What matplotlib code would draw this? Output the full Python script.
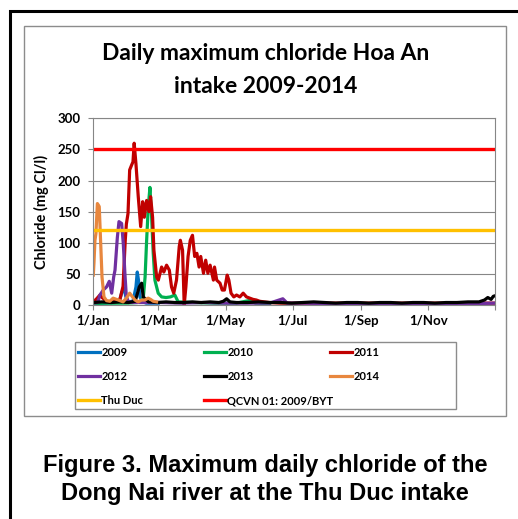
import matplotlib
matplotlib.use("Agg")
import matplotlib.pyplot as plt
from matplotlib.patches import Rectangle

plt.rcParams['font.family'] = ['Lato', 'DejaVu Sans']

# ---------------- data (day of year, mg Cl/l) ----------------
days_2009 = [0, 10, 20, 24, 26, 27.8, 29.6, 31.7, 36, 38.7, 39.9, 41, 42.3, 45, 48, 55, 59]
vals_2009 = [3, 3, 4, 8, 21, 27, 13, 5, 6, 29, 53, 40, 13, 5, 3, 3, 3]

days_2010 = [0, 10, 20, 30, 40, 44, 45.5, 47, 48.4, 49.9, 51.4, 52.9, 54.4, 55.9, 58.9,
             62, 66, 70, 74, 77, 90, 110, 130, 143.5, 147, 160]
vals_2010 = [2, 3, 3, 3, 4, 6, 14, 45, 104, 158, 189, 142, 83, 40, 19,
             13, 12, 13, 16, 5, 4, 3, 3, 8, 3, 2]

days_2011 = [0, 3, 6, 8, 12, 18, 24, 27, 29, 30,
             31.5, 33, 34.8, 36, 37.1, 38.7, 40.8, 43, 44.8, 46.3,
             48.4, 50.5, 52, 53.8, 55, 57.5, 59, 62, 64, 66.5,
             69, 71, 73, 75.5, 78, 79, 81, 82.5, 84, 86,
             88, 90, 92, 94, 96, 97.5, 100, 102, 104, 106,
             109, 110, 112, 115, 117, 119, 121.5, 123, 125, 127.5,
             130, 133, 136, 139, 142, 145, 148, 151, 155, 160,
             170, 200, 250, 300, 365]
vals_2011 = [5, 10, 16, 12, 6, 5, 8, 30, 104, 130,
             147, 217, 225, 230, 260, 227, 174, 126, 166, 141,
             168, 150, 174, 141, 88, 45, 40, 61, 53, 64,
             56, 29, 19, 40, 94, 104, 88, 0, 29, 78,
             104, 112, 78, 83, 61, 78, 51, 72, 51, 64,
             40, 61, 40, 35, 24, 24, 48, 40, 19, 13,
             16, 13, 19, 13, 11, 9, 8, 6, 5, 4,
             3, 3, 3, 3, 3]

days_2012 = [0, 4, 6, 9, 12, 14.5, 16.7, 18.5, 19.7, 21.8,
             23.3, 25.7, 27.2, 28.7, 30, 31.7, 35, 45, 60, 80,
             100, 120, 140, 160, 172, 176, 190, 220, 250, 280,
             310, 340, 365]
vals_2012 = [3, 4, 16, 24, 29, 38, 19, 45, 56, 108,
             134, 131, 99, 50, 13, 6, 4, 4, 4, 3,
             4, 3, 3, 3, 10, 3, 3, 2, 2, 2,
             2, 2, 3]

days_2013 = [0, 8, 16, 24, 32, 38, 41.7, 43.9, 45.3, 50,
             58, 66, 74, 82, 90, 98, 106, 114, 118, 121,
             124, 130, 140, 150, 160, 170, 180, 190, 200, 210,
             220, 230, 240, 250, 260, 270, 280, 290, 300, 310,
             320, 330, 340, 350, 355, 358, 361, 363, 365]
vals_2013 = [4, 5, 4, 5, 4, 6, 29, 35, 13, 5,
             4, 5, 4, 4, 5, 4, 5, 4, 6, 10,
             5, 4, 4, 5, 4, 4, 3, 4, 5, 4,
             3, 4, 4, 3, 4, 4, 3, 4, 4, 3,
             4, 4, 5, 5, 8, 12, 9, 14, 15]

days_2014 = [0, 0.6, 1.5, 2.4, 3.7, 4.8, 5.4, 6.6, 7.9, 9.7,
             12, 15, 18, 22.7, 27, 30, 33, 35.6, 37.8, 40.8,
             43.8, 46.8, 49.8, 52, 54.4, 57.4]
vals_2014 = [48, 67, 104, 115, 163, 160, 158, 104, 45, 13,
             7, 6, 11, 8, 5, 11, 19, 13, 8, 5,
             8, 8, 11, 9, 6, 5]

thu_duc_level = 120
qcvn_level = 250

tick_days = [0, 59, 120, 181, 243, 304, 365]
tick_labels = ['1/Jan', '1/Mar', '1/May', '1/Jul', '1/Sep', '1/Nov', '']

series = [
    ('2009', days_2009, vals_2009, '#0070C0'),
    ('2010', days_2010, vals_2010, '#00B050'),
    ('2011', days_2011, vals_2011, '#C00000'),
    ('2012', days_2012, vals_2012, '#7030A0'),
    ('2013', days_2013, vals_2013, '#000000'),
    ('2014', days_2014, vals_2014, '#E8873E'),
]

# ---------------- figure ----------------
W, H = 518, 519
fig = plt.figure(figsize=(W / 100, H / 100), dpi=100)

# outer black frame
fig.patches.append(Rectangle((9.5 / W, -0.05), 1.2, (H - 11) / H + 0.05,
                             transform=fig.transFigure, fill=False,
                             edgecolor='black', linewidth=2.2, zorder=0))
# chart area gray box
fig.patches.append(Rectangle((24 / W, (H - 416) / H), 482 / W, 390 / H,
                             transform=fig.transFigure, fill=False,
                             edgecolor='#8c8c8c', linewidth=1.0, zorder=0))

ax = fig.add_axes([93.3 / W, (H - 305) / H, (495.5 - 93.3) / W, (305 - 118.3) / H])

handles = {}
for name, d, v, c in series:
    ln, = ax.plot(d, v, color=c, linewidth=2.3, solid_joinstyle='round', label=name)
    handles[name] = ln
ln, = ax.plot([0, 365], [thu_duc_level, thu_duc_level], color='#FFC000', linewidth=2.4, label='Thu Duc')
handles['Thu Duc'] = ln
ln, = ax.plot([0, 365], [qcvn_level, qcvn_level], color='#FF0000', linewidth=2.4, label='QCVN 01: 2009/BYT')
handles['QCVN 01: 2009/BYT'] = ln

ax.set_xlim(0, 365)
ax.set_ylim(0, 300)
ax.set_yticks(range(0, 301, 50))
ax.set_xticks(tick_days)
ax.set_xticklabels(tick_labels)
ax.yaxis.grid(True, color='#868686', linewidth=0.8)
ax.set_axisbelow(True)
for s in ax.spines.values():
    s.set_color('#868686')
    s.set_linewidth(0.8)
ax.tick_params(axis='both', direction='out', length=3.6, color='#868686', width=0.8,
               labelsize=9.5)
ax.tick_params(axis='y', pad=5.5)
ax.tick_params(axis='x', pad=3.5)
for lab in ax.get_xticklabels() + ax.get_yticklabels():
    lab.set_fontweight('bold')
ax.set_ylabel('Chloride (mg Cl/l)', fontsize=10.5, fontweight='bold', labelpad=6)

# title
fig.text(266 / W, 1 - 60 / H, 'Daily maximum chloride Hoa An', ha='center', va='baseline',
         fontsize=16.5, fontweight='bold')
fig.text(266 / W, 1 - 93 / H, 'intake 2009-2014', ha='center', va='baseline',
         fontsize=16.5, fontweight='bold')

# legend: three columns of equal width
cols = [['2009', '2012', 'Thu Duc'], ['2010', '2013', 'QCVN 01: 2009/BYT'], ['2011', '2014']]
col_x = [78, 204, 330]
for names, x in zip(cols, col_x):
    leg = fig.legend([handles[n] for n in names], names, loc='upper left',
                     bbox_to_anchor=(x / W, 1 - 347 / H), bbox_transform=fig.transFigure,
                     frameon=False, borderpad=0, borderaxespad=0,
                     handlelength=2.0, handletextpad=0.1, labelspacing=1.18,
                     prop={'family': ['Lato', 'DejaVu Sans'], 'weight': 'bold', 'size': 8})
fig.patches.append(Rectangle((75 / W, (H - 409) / H), 381 / W, 67 / H,
                             transform=fig.transFigure, fill=False,
                             edgecolor='#8c8c8c', linewidth=1.0))

# caption
cap_font = ['Liberation Sans', 'DejaVu Sans']
fig.text(265 / W, 1 - 472 / H, 'Figure 3. Maximum daily chloride of the', ha='center',
         va='baseline', fontsize=17, fontweight='bold', family=cap_font)
fig.text(265 / W, 1 - 500 / H, 'Dong Nai river at the Thu Duc intake', ha='center',
         va='baseline', fontsize=17, fontweight='bold', family=cap_font)

fig.savefig('out.png', dpi=100)
